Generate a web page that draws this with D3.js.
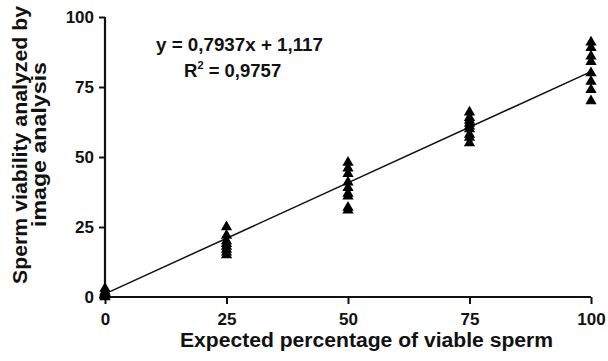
<!DOCTYPE html>
<html>
<head>
<meta charset="utf-8">
<script src="https://cdn.jsdelivr.net/npm/d3@7"></script>
<style>
  body { margin: 0; background: #fff; }
  text { font-family: "Liberation Sans", Arial, sans-serif; font-weight: bold; fill: #111; }
</style>
</head>
<body>
<script>
'use strict'

const xGroups = [0, 25, 50, 75, 100]
const measured = [
  [0, 1, 2, 3, 0.5, 1.5],
  [25, 22, 20, 19, 18, 17, 16, 15],
  [48, 46, 44, 41, 39, 37, 36, 32, 31],
  [66, 64, 63, 62, 61, 60, 58, 57, 55],
  [91, 89, 86, 84, 80, 77, 74, 70]
]
const slope = 0.7937
const intercept = 1.117
const xTicks = [0, 25, 50, 75, 100]
const yTicks = [0, 25, 50, 75, 100]
const eqLines = ['y = 0,7937x + 1,117', 'R', ' = 0,9757']

const width = 608
const height = 361
const margin = { top: 17, right: 17, bottom: 64, left: 105 }

const svg = d3.select('body').append('svg')
  .attr('width', width)
  .attr('height', height)

const scaleX = d3.scaleLinear().domain([0, 100])
  .range([margin.left, width - margin.right])
const scaleY = d3.scaleLinear().domain([0, 100])
  .range([height - margin.bottom, margin.top])

const points = []
xGroups.forEach(function (x, i) {
  measured[i].forEach(function (y) { points.push([x, y]) })
})

const axisX = d3.axisBottom(scaleX).tickValues(xTicks).tickSize(7).tickPadding(9)
const axisY = d3.axisLeft(scaleY).tickValues(yTicks).tickSize(6).tickPadding(5)

const gx = svg.append('g')
  .attr('transform', 'translate(0,' + scaleY(0) + ')')
  .call(axisX)
const gy = svg.append('g')
  .attr('transform', 'translate(' + scaleX(0) + ',0)')
  .call(axisY)
;[gx, gy].forEach(function (g) {
  g.select('.domain').attr('stroke', '#111').attr('stroke-width', 2.2)
  g.selectAll('.tick line').attr('stroke', '#111').attr('stroke-width', 2)
  g.selectAll('.tick text').style('font-size', '17px')
    .style('font-family', '"Liberation Sans", Arial, sans-serif')
    .style('font-weight', 'bold').attr('fill', '#111')
})
gx.select('.domain').attr('d', 'M' + scaleX(0) + ',0H' + scaleX(100))
gy.select('.domain').attr('d', 'M0,' + scaleY(0) + 'V' + scaleY(100))

// regression line
const line = d3.line()
  .x(function (d) { return scaleX(d) })
  .y(function (d) { return scaleY(slope * d + intercept) })
svg.append('path')
  .attr('d', line([0, 100]))
  .attr('fill', 'none')
  .attr('stroke', '#111')
  .attr('stroke-width', 1.5)

// triangles
const tri = d3.symbol().type(d3.symbolTriangle).size(55)
svg.append('g').selectAll('path')
  .data(points)
  .enter()
  .append('path')
  .attr('d', tri)
  .attr('fill', '#000')
  .attr('transform', function (d) {
    return 'translate(' + scaleX(d[0]) + ',' + scaleY(d[1]) + ')'
  })

// equation
svg.append('text')
  .attr('x', 156).attr('y', 51)
  .attr('textLength', 167)
  .attr('lengthAdjust', 'spacingAndGlyphs')
  .style('font-size', '18.5px')
  .text(eqLines[0])
const r2 = svg.append('text')
  .attr('x', 184).attr('y', 77)
  .style('font-size', '18.5px')
r2.append('tspan').text(eqLines[1])
r2.append('tspan').attr('dy', -8).style('font-size', '11px').text('2')
r2.append('tspan').attr('dy', 8).text(eqLines[2])

// axis titles
svg.append('text')
  .attr('x', 180)
  .attr('y', 347)
  .attr('textLength', 373)
  .attr('lengthAdjust', 'spacingAndGlyphs')
  .style('font-size', '20px')
  .text('Expected percentage of viable sperm')

const yTitle = svg.append('g')
  .attr('transform', 'translate(0,' + 145 + ') rotate(-90)')
yTitle.append('text')
  .attr('x', -139).attr('y', 27)
  .attr('textLength', 278)
  .attr('lengthAdjust', 'spacingAndGlyphs')
  .style('font-size', '20px')
  .text('Sperm viability analyzed by')
yTitle.append('text')
  .attr('x', -82).attr('y', 46)
  .attr('textLength', 165)
  .attr('lengthAdjust', 'spacingAndGlyphs')
  .style('font-size', '20px')
  .text('image analysis')
</script>
</body>
</html>
